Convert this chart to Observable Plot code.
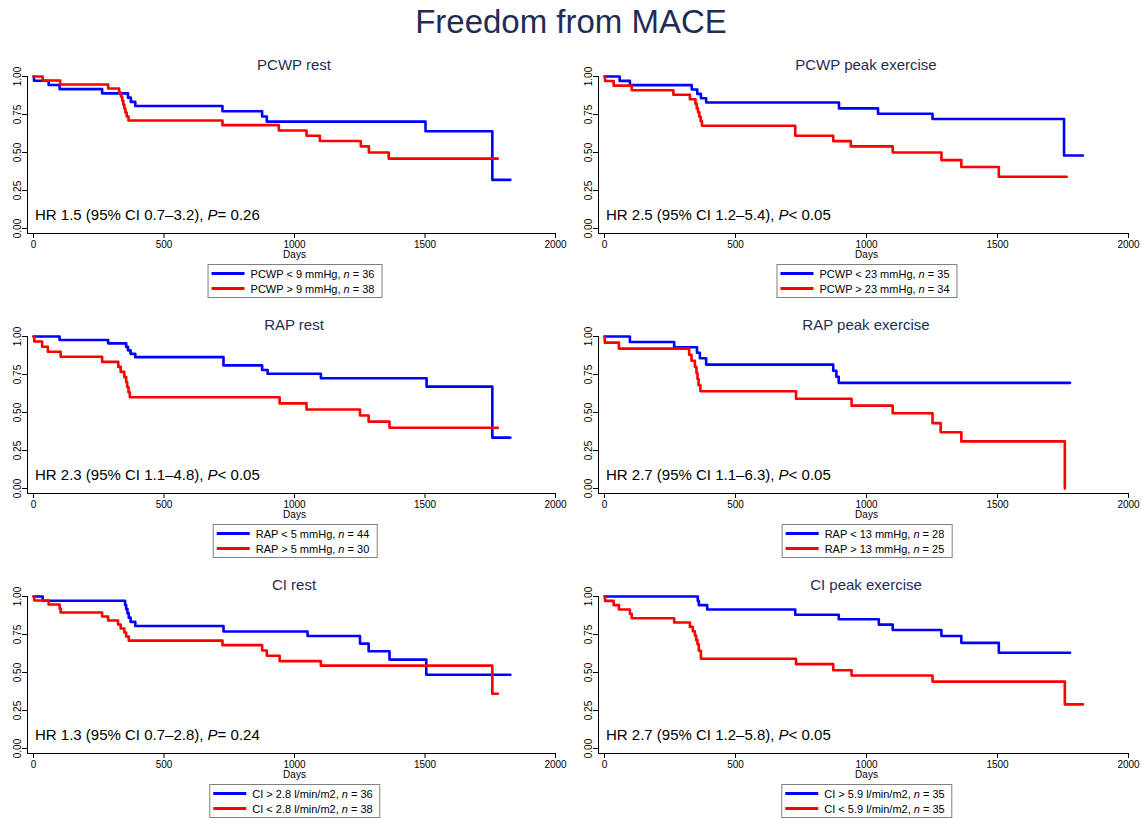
<!DOCTYPE html>
<html><head><meta charset="utf-8">
<script src="https://cdn.jsdelivr.net/npm/d3@7"></script>
<script src="https://cdn.jsdelivr.net/npm/@observablehq/plot@0.6"></script>
<style>
body{margin:0;background:#fff;font-family:"Liberation Sans",Arial,Helvetica,sans-serif;}
#root{position:relative;width:1142px;height:818px;overflow:hidden;background:#fff}
.abs{position:absolute}
.main{left:0;width:1142px;top:3px;text-align:center;font-size:33px;color:#1f2d55;line-height:38px}
.ptitle{font-size:15px;color:#1f2d55;text-align:center;line-height:18px;white-space:nowrap}
.hr{font-size:15px;color:#000;line-height:18px;white-space:nowrap}
.legend{border:1px solid #808080;background:#fff;padding:1px 7px 1px 3px;transform:translateX(-50%);font-size:11px;white-space:nowrap;color:#000}
.lrow{display:flex;align-items:center;height:15px}
.sw{width:33px;height:3px;margin-right:6px}
.plot{position:absolute}
</style></head>
<body><div id="root"></div>
<script>
// ---- Data ----
const panelTitles = ["PCWP rest", "PCWP peak exercise", "RAP rest", "RAP peak exercise", "CI rest", "CI peak exercise"];
const hrLabels = ["HR 1.5 (95% CI 0.7–3.2), ", "HR 2.5 (95% CI 1.2–5.4), ", "HR 2.3 (95% CI 1.1–4.8), ", "HR 2.7 (95% CI 1.1–6.3), ", "HR 1.3 (95% CI 0.7–2.8), ", "HR 2.7 (95% CI 1.2–5.8), "];
const pLabels = ["= 0.26", "< 0.05", "< 0.05", "< 0.05", "= 0.24", "< 0.05"];
const legendBlue = ["PCWP < 9 mmHg", "PCWP < 23 mmHg", "RAP < 5 mmHg", "RAP < 13 mmHg", "CI > 2.8 l/min/m2", "CI > 5.9 l/min/m2"];
const legendRed = ["PCWP > 9 mmHg", "PCWP > 23 mmHg", "RAP > 5 mmHg", "RAP > 13 mmHg", "CI < 2.8 l/min/m2", "CI < 5.9 l/min/m2"];
const nBlue = [36, 35, 44, 28, 36, 35];
const nRed = [38, 34, 30, 25, 38, 35];
const xTicks = [0, 500, 1000, 1500, 2000];
const yTicks = [0, 0.25, 0.5, 0.75, 1];

// [day, survival]
const pcwpRestBlue = [[0,1],[2,0.972],[58,0.944],[100,0.917],[263,0.889],[362,0.861],[373,0.833],[390,0.806],[724,0.771],[876,0.737],[894,0.703],[1502,0.64],[1758,0.32],[1827,0.32]];
const pcwpRestRed = [[0,1],[35,0.974],[102,0.947],[286,0.921],[328,0.895],[335,0.868],[340,0.842],[344,0.816],[348,0.789],[352,0.763],[357,0.737],[364,0.711],[724,0.68],[940,0.645],[1046,0.61],[1097,0.576],[1254,0.54],[1285,0.50],[1361,0.46],[1779,0.46]];
const pcwpPeakBlue = [[0,1],[58,0.971],[97,0.943],[333,0.914],[354,0.886],[368,0.857],[388,0.829],[895,0.79],[1044,0.755],[1252,0.72],[1754,0.48],[1826,0.48]];
const pcwpPeakRed = [[0,1],[2,0.97],[35,0.94],[104,0.91],[263,0.88],[326,0.85],[347,0.82],[352,0.79],[357,0.765],[362,0.735],[367,0.706],[372,0.676],[728,0.61],[873,0.575],[940,0.54],[1100,0.50],[1286,0.45],[1362,0.405],[1505,0.34],[1764,0.34]];
const rapRestBlue = [[0,1],[100,0.977],[286,0.955],[355,0.932],[362,0.909],[372,0.886],[390,0.864],[728,0.81],[876,0.78],[897,0.755],[1101,0.725],[1506,0.67],[1758,0.335],[1827,0.335]];
const rapRestRed = [[0,1],[3,0.967],[33,0.933],[55,0.90],[104,0.867],[263,0.833],[325,0.80],[334,0.767],[348,0.733],[355,0.70],[359,0.667],[364,0.633],[369,0.60],[943,0.56],[1046,0.52],[1251,0.48],[1284,0.44],[1364,0.40],[1779,0.40]];
const rapPeakBlue = [[0,1],[97,0.964],[266,0.929],[353,0.893],[364,0.857],[388,0.815],[873,0.775],[885,0.735],[894,0.695],[1777,0.695]];
const rapPeakRed = [[0,1],[1,0.96],[55,0.92],[323,0.88],[332,0.84],[345,0.80],[351,0.76],[355,0.72],[359,0.68],[366,0.64],[731,0.59],[943,0.545],[1100,0.495],[1252,0.43],[1283,0.37],[1362,0.31],[1757,0.0]];
const ciRestBlue = [[0,1],[35,0.972],[351,0.944],[355,0.917],[360,0.889],[365,0.861],[372,0.833],[390,0.806],[728,0.77],[1050,0.74],[1251,0.69],[1284,0.64],[1364,0.585],[1505,0.485],[1827,0.485]];
const ciRestRed = [[0,1],[3,0.974],[58,0.947],[100,0.921],[104,0.895],[263,0.868],[286,0.842],[324,0.816],[334,0.789],[348,0.763],[355,0.737],[365,0.71],[724,0.68],[876,0.645],[894,0.61],[943,0.575],[1101,0.545],[1758,0.36],[1779,0.36]];
const ciPeakBlue = [[0,1],[356,0.971],[360,0.943],[392,0.914],[728,0.88],[894,0.85],[1047,0.815],[1100,0.78],[1286,0.74],[1362,0.695],[1505,0.63],[1777,0.63]];
const ciPeakRed = [[0,1],[2,0.971],[35,0.943],[55,0.914],[97,0.886],[104,0.857],[266,0.829],[326,0.80],[337,0.771],[345,0.743],[350,0.714],[355,0.686],[360,0.643],[368,0.59],[731,0.555],[873,0.515],[943,0.48],[1252,0.44],[1757,0.29],[1826,0.29]];

const blueSeries = [pcwpRestBlue, pcwpPeakBlue, rapRestBlue, rapPeakBlue, ciRestBlue, ciPeakBlue];
const redSeries = [pcwpRestRed, pcwpPeakRed, rapRestRed, rapPeakRed, ciRestRed, ciPeakRed];

// ---- Layout ----
const root = document.getElementById("root");
const FONT = '"Liberation Sans", Arial, Helvetica, sans-serif';

const main = document.createElement("div");
main.className = "abs main";
main.textContent = "Freedom from MACE";
root.appendChild(main);

function km(blue, red, col) {
  const data = [
    ...blue.map(([t, s]) => ({t, s, g: "blue"})),
    ...red.map(([t, s]) => ({t, s, g: "red"}))
  ];
  return Plot.plot({
    width: 571,
    height: 190,
    marginTop: 6,
    marginBottom: 32,
    marginLeft: 33,
    marginRight: col ? 14 : 16,
    x: {domain: [0, 2000]},
    y: {domain: [0, 1]},
    color: {domain: ["blue", "red"], range: ["#0000ff", "#ff0000"]},
    style: {fontFamily: FONT, fontSize: "10px", color: "#000", background: "transparent", overflow: "visible"},
    marks: [
      Plot.ruleX([0], {dx: -6, insetBottom: -5, stroke: "#000", strokeWidth: 1}),
      Plot.ruleY([0], {dy: 5, insetLeft: -6, stroke: "#000", strokeWidth: 1}),
      Plot.axisY({ticks: yTicks, tickFormat: d3.format(".2f"), tickSize: 5, tickPadding: 2, tickRotate: -90, dx: -6, label: null}),
      Plot.axisX({ticks: xTicks, tickFormat: d3.format("d"), tickSize: 5, tickPadding: 2, dy: 5, label: "Days", labelAnchor: "center", labelArrow: "none"}),
      Plot.line(data, {x: "t", y: "s", z: "g", stroke: "g", curve: "step-after", strokeWidth: 2.6})
    ]
  });
}

for (let i = 0; i < 6; i++) {
  const col = i % 2, row = Math.floor(i / 2);
  const left = col * 571, off = row * 260;
  const x0 = left + 33, x1 = left + (col ? 557 : 555);

  const t = document.createElement("div");
  t.className = "abs ptitle";
  t.style.left = x0 + "px";
  t.style.width = (x1 - x0) + "px";
  t.style.top = (56 + off) + "px";
  t.textContent = panelTitles[i];
  root.appendChild(t);

  const svg = km(blueSeries[i], redSeries[i], col);
  svg.classList.add("plot");
  svg.style.left = left + "px";
  svg.style.top = (70 + off) + "px";
  root.appendChild(svg);

  const hr = document.createElement("div");
  hr.className = "abs hr";
  hr.style.left = (x0 + 2) + "px";
  hr.style.top = (206 + off) + "px";
  hr.innerHTML = hrLabels[i] + "<i>P</i>" + pLabels[i];
  root.appendChild(hr);

  const lg = document.createElement("div");
  lg.className = "abs legend";
  lg.style.left = ((x0 + x1) / 2 + 1) + "px";
  lg.style.top = (264 + off) + "px";
  lg.innerHTML =
    `<div class="lrow"><div class="sw" style="background:#0000ff"></div><span>${legendBlue[i]}, <i>n</i> = ${nBlue[i]}</span></div>` +
    `<div class="lrow"><div class="sw" style="background:#ff0000"></div><span>${legendRed[i]}, <i>n</i> = ${nRed[i]}</span></div>`;
  root.appendChild(lg);
}
</script></body></html>
